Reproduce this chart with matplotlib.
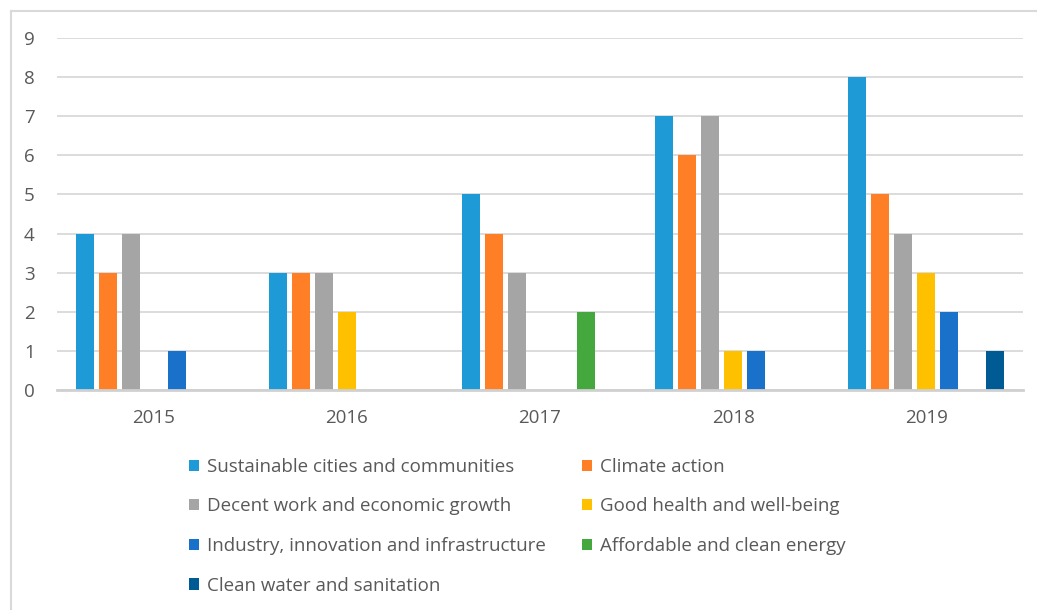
import matplotlib.pyplot as plt
import numpy as np
from matplotlib.patches import Patch
from matplotlib.lines import Line2D

plt.rcParams['font.family'] = ['Open Sans', 'DejaVu Sans']

years = ["2015", "2016", "2017", "2018", "2019"]
series = [
    "Sustainable cities and communities",
    "Climate action",
    "Decent work and economic growth",
    "Good health and well-being",
    "Industry, innovation and infrastructure",
    "Affordable and clean energy",
    "Clean water and sanitation",
]
sustainable = [4, 3, 5, 7, 8]
climate = [3, 3, 4, 6, 5]
decent_work = [4, 3, 3, 7, 4]
good_health = [0, 2, 0, 1, 3]
industry = [1, 0, 0, 1, 2]
energy = [0, 0, 2, 0, 0]
water = [0, 0, 0, 0, 1]
values = [sustainable, climate, decent_work, good_health, industry, energy, water]
colors = ["#1E9BD7", "#FF7F27", "#A5A5A5", "#FFC000", "#1A71C9", "#44A83F", "#005A94"]

fig = plt.figure(figsize=(10.37, 6.10), dpi=100)
ax = fig.add_axes([57 / 1037, 1 - 390 / 610, 966 / 1037, 352 / 610])

x = np.arange(len(years))
stride = 23 / 193.2
width = 18 / 193.2
for i, (vals, col) in enumerate(zip(values, colors)):
    ax.bar(x + (i - 3) * stride, vals, width=width, color=col, zorder=3)

ax.set_xlim(-0.5, 4.5)
ax.set_ylim(0, 9)
ax.set_yticks(range(10))
ax.set_xticks(x)
ax.set_xticklabels(years)
ax.grid(axis='y', color='#D9D9D9', linewidth=1.3, zorder=0)
for s in ['top', 'right', 'left']:
    ax.spines[s].set_visible(False)
ax.spines['bottom'].set_color('#D0D0D0')
ax.spines['bottom'].set_linewidth(2)
ax.spines['bottom'].set_zorder(4)
ax.tick_params(axis='both', length=0, labelsize=13.5, labelcolor='#595959')
ax.tick_params(axis='y', pad=16)
ax.tick_params(axis='x', pad=14)

# legend is filled row by row in the reference
order = [0, 2, 4, 6, 1, 3, 5]
handles = [Patch(facecolor=colors[i], edgecolor='none') for i in order]
labels = [series[i] for i in order]
fig.legend(handles, labels, ncol=2, loc='upper left',
           bbox_to_anchor=(172 / 1037, 1 - 441 / 610), frameon=False,
           fontsize=13.5, labelcolor='#595959', handlelength=0.55, handleheight=0.55,
           handletextpad=0.4, columnspacing=1.95, labelspacing=1.15)

# outer chart border (left and top only visible)
fig.add_artist(Line2D([10.5 / 1037, 10.5 / 1037], [0, 1 - 10.5 / 610],
                      transform=fig.transFigure, color='#D9D9D9', lw=1.5))
fig.add_artist(Line2D([10.5 / 1037, 1], [1 - 10.5 / 610, 1 - 10.5 / 610],
                      transform=fig.transFigure, color='#D9D9D9', lw=1.5))

fig.savefig("out.png", dpi=100)
